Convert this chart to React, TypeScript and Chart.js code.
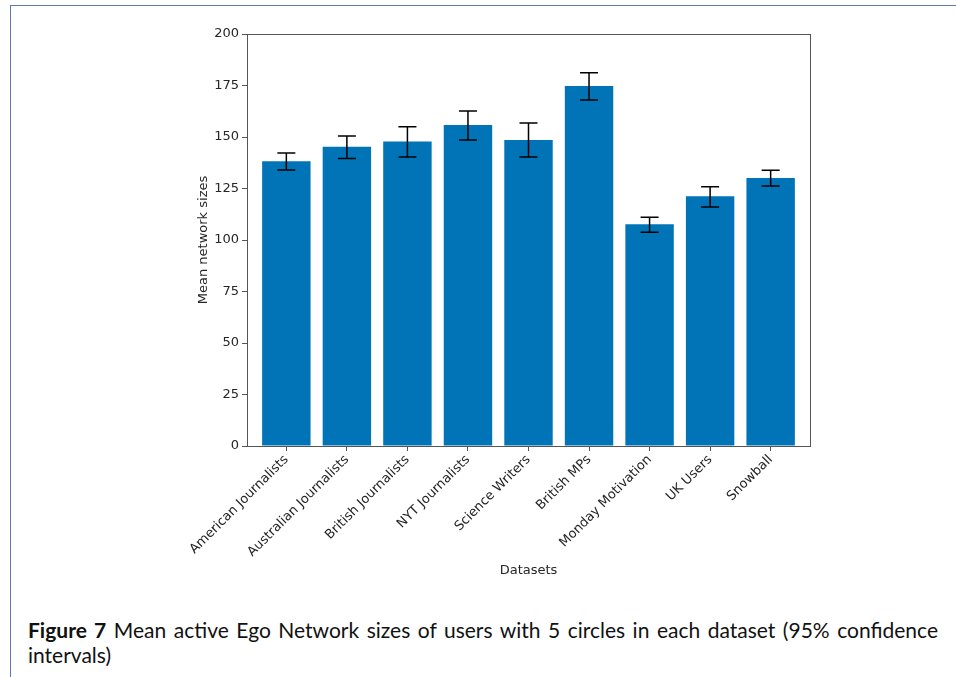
import React, { useEffect, useRef } from "react";
import { Chart, registerables } from "chart.js";

Chart.register(...registerables);

const categories = [
  "American Journalists",
  "Australian Journalists",
  "British Journalists",
  "NYT Journalists",
  "Science Writers",
  "British MPs",
  "Monday Motivation",
  "UK Users",
  "Snowball",
];
const means = [138.2, 145.3, 147.8, 155.8, 148.5, 174.8, 107.6, 121.2, 130.1];
const ciLow = [134.0, 139.6, 140.3, 148.5, 140.3, 168.0, 103.8, 116.0, 126.2];
const ciHigh = [142.2, 150.5, 155.0, 162.6, 156.8, 181.2, 111.0, 125.9, 133.8];
const yTicks = [0, 25, 50, 75, 100, 125, 150, 175, 200];

const BAR_COLOR = "#0174b7";
const AXIS_COLOR = "#555555";
const TEXT_COLOR = "#262626";
const FONT = "'DejaVu Sans', sans-serif";

const errorBarPlugin = {
  id: "errorBars",
  afterDatasetsDraw(chart: any) {
    const meta = chart.getDatasetMeta(0);
    const y = chart.scales.y;
    const ctx = chart.ctx;
    ctx.save();
    ctx.strokeStyle = "#000000";
    ctx.lineWidth = 1.5;
    meta.data.forEach((el: any, i: number) => {
      const x = el.x;
      const yT = y.getPixelForValue(ciHigh[i]);
      const yB = y.getPixelForValue(ciLow[i]);
      ctx.beginPath();
      ctx.moveTo(x, yT);
      ctx.lineTo(x, yB);
      ctx.moveTo(x - 9, yT);
      ctx.lineTo(x + 9, yT);
      ctx.moveTo(x - 9, yB);
      ctx.lineTo(x + 9, yB);
      ctx.stroke();
    });
    ctx.restore();
  },
};

const frameBoxPlugin = {
  id: "frameBox",
  afterDraw(chart: any) {
    const a = chart.chartArea;
    const ctx = chart.ctx;
    ctx.save();
    ctx.strokeStyle = AXIS_COLOR;
    ctx.lineWidth = 1;
    ctx.strokeRect(Math.round(a.left) + 0.5, Math.round(a.top) + 0.5, Math.round(a.right - a.left), Math.round(a.bottom - a.top));
    ctx.restore();
  },
};

export default function App() {
  const canvasRef = useRef<HTMLCanvasElement | null>(null);

  useEffect(() => {
    if (!canvasRef.current) return;
    const chart = new Chart(canvasRef.current, {
      type: "bar",
      data: {
        datasets: [
          {
            data: means.map((v, i) => ({ x: i, y: v })),
            backgroundColor: BAR_COLOR,
            borderWidth: 0,
            barPercentage: 0.8,
            categoryPercentage: 1,
          },
        ],
      },
      plugins: [errorBarPlugin, frameBoxPlugin],
      options: {
        animation: false,
        responsive: false,
        maintainAspectRatio: false,
        layout: { padding: { left: 190, top: 34, right: 146, bottom: 18 } },
        plugins: { legend: { display: false }, tooltip: { enabled: false } },
        scales: {
          x: {
            type: "linear",
            offset: false,
            min: -0.65,
            max: 8.65,
            afterBuildTicks(scale: any) {
              scale.ticks = categories.map((_, i) => ({ value: i }));
            },
            afterFit(scale: any) {
              scale.height = 600 - 18 - 446;
            },
            grid: {
              offset: false,
              drawOnChartArea: false,
              drawTicks: true,
              tickLength: 5,
              color: AXIS_COLOR,
            },
            border: { display: false },
            ticks: {
              autoSkip: false,
              maxRotation: 45,
              minRotation: 45,
              padding: 1,
              color: TEXT_COLOR,
              font: { family: FONT, size: 13 },
              callback: (v: any) => categories[v as number] ?? "",
            },
            title: {
              display: true,
              text: "Datasets",
              color: TEXT_COLOR,
              font: { family: FONT, size: 13 },
              padding: { top: 4, bottom: 4 },
            },
          },
          y: {
            min: 0,
            max: 200,
            afterBuildTicks(scale: any) {
              scale.ticks = yTicks.map((v) => ({ value: v }));
            },
            afterFit(scale: any) {
              scale.width = 247 - 190;
            },
            grid: {
              drawOnChartArea: false,
              drawTicks: true,
              tickLength: 5,
              color: AXIS_COLOR,
            },
            border: { display: false },
            ticks: {
              padding: 3,
              color: TEXT_COLOR,
              font: { family: FONT, size: 13 },
            },
            title: {
              display: true,
              text: "Mean network sizes",
              color: TEXT_COLOR,
              font: { family: FONT, size: 13 },
              padding: { top: 6, bottom: 4 },
            },
          },
        },
      },
    } as any);
    return () => chart.destroy();
  }, []);

  return (
    <div style={{ position: "fixed", left: 0, top: 0, width: 956, height: 677, background: "#fff", overflow: "hidden" }}>
      <div
        style={{
          position: "absolute",
          left: 10,
          top: 5,
          width: 960,
          height: 700,
          borderLeft: "1.5px solid #5a7ab0",
          borderTop: "1.5px solid #5a7ab0",
        }}
      />
      <canvas ref={canvasRef} width={956} height={600} style={{ position: "absolute", left: 0, top: 0, width: 956, height: 600 }} />
      <div
        style={{
          position: "absolute",
          left: 28,
          top: 617,
          width: 910,
          fontFamily: "Lato, sans-serif",
          fontSize: 21,
          lineHeight: "25px",
          color: "#111",
          textAlign: "justify",
        }}
      >
        <b>Figure 7</b> Mean active Ego Network sizes of users with 5 circles in each dataset (95% confidence intervals)
      </div>
    </div>
  );
}
